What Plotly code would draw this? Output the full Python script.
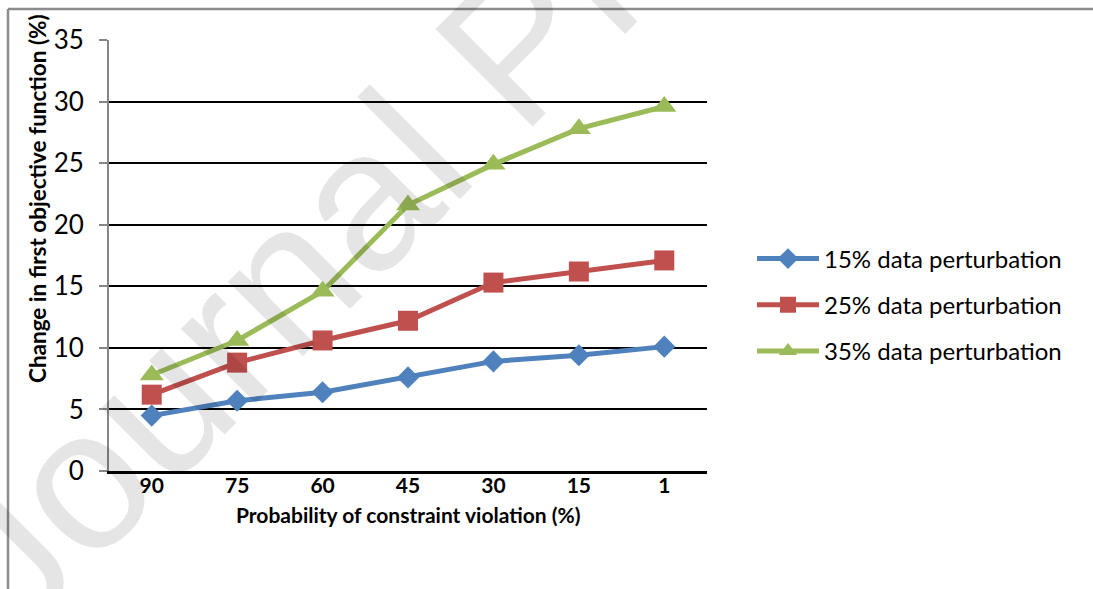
import plotly.graph_objects as go

categories = ["90", "75", "60", "45", "30", "15", "1"]
s15 = [4.5, 5.7, 6.4, 7.6, 8.9, 9.4, 10.1]
s25 = [6.2, 8.8, 10.6, 12.2, 15.3, 16.2, 17.1]
s35 = [7.8, 10.6, 14.6, 21.6, 24.9, 27.8, 29.6]
series_names = ["15% data perturbation", "25% data perturbation", "35% data perturbation"]
colors = ["#4F81BD", "#C0504D", "#9BBB59"]
symbols = ["diamond", "square", "triangle-up"]
sizes = [17, 20, 21]

FONT = "Lato"
W, H = 1093, 589
L, R, T, B = 109, 707, 40, 471

fig = go.Figure()
for i, (name, vals, c, sym, sz) in enumerate(zip(series_names, [s15, s25, s35], colors, symbols, sizes)):
    fig.add_trace(go.Scatter(
        x=categories, y=vals, name=name, mode="lines+markers",
        legendgroup=f"g{i}",
        line=dict(color=c, width=5),
        marker=dict(symbol=sym, size=sz, color=c, line=dict(width=0)),
    ))

def px_x(x):
    return (x - L) / (R - L)

def px_y(y):
    return (B - y) / (B - T)

fig.update_layout(
    width=W, height=H,
    margin=dict(l=L, r=W - R, t=T, b=H - B, pad=0),
    paper_bgcolor="white", plot_bgcolor="white",
    font=dict(family=FONT, color="black"),
    showlegend=True,
    legend=dict(
        x=px_x(752), y=px_y(305), xanchor="left", yanchor="middle",
        font=dict(size=24, family=FONT, color="black"),
        itemwidth=62, tracegroupgap=12, bgcolor="rgba(0,0,0,0)",
    ),
    xaxis=dict(
        type="category", range=[-0.5, 6.5],
        showline=True, linecolor="black", linewidth=2.5,
        showgrid=False, ticks="", zeroline=False,
        tickfont=dict(size=21, family=FONT, color="black", weight="bold"),
        ticklabelstandoff=-6,
    ),
    yaxis=dict(
        range=[0, 35], dtick=5, tick0=0,
        showline=True, linecolor="#868686", linewidth=2,
        showgrid=True, gridcolor="black", gridwidth=1.6,
        ticks="outside", ticklen=8, tickwidth=2, tickcolor="#868686",
        zeroline=False,
        tickfont=dict(size=26, family=FONT, color="black"),
        ticklabelstandoff=10,
    ),
)

# Axis titles
fig.add_annotation(
    text="<b>Probability of constraint violation (%)</b>",
    xref="paper", yref="paper", x=px_x(408), y=px_y(514),
    xanchor="center", yanchor="middle", showarrow=False,
    font=dict(size=21, family=FONT, color="black"),
)
fig.add_annotation(
    text="<b>Change in first objective function (%)</b>",
    xref="paper", yref="paper", x=px_x(37), y=px_y(199),
    xanchor="center", yanchor="middle", showarrow=False, textangle=-90,
    font=dict(size=22.5, family=FONT, color="black"),
)

# Outer frame lines (top and left)
fig.add_shape(type="line", xref="paper", yref="paper",
              x0=px_x(8), x1=px_x(1100), y0=px_y(9), y1=px_y(9),
              line=dict(color="#8c8c8c", width=2.5))
fig.add_shape(type="line", xref="paper", yref="paper",
              x0=px_x(8), x1=px_x(8), y0=px_y(9), y1=px_y(600),
              line=dict(color="#8c8c8c", width=2.5))

# Watermark
fig.add_annotation(
    text="Journal Pre-proof",
    xref="paper", yref="paper", x=px_x(515), y=px_y(45),
    xanchor="center", yanchor="middle", showarrow=False, textangle=-45,
    font=dict(size=200, family="Liberation Sans", color="rgba(0,0,0,0.1)"),
)

fig.write_html("out.html")
